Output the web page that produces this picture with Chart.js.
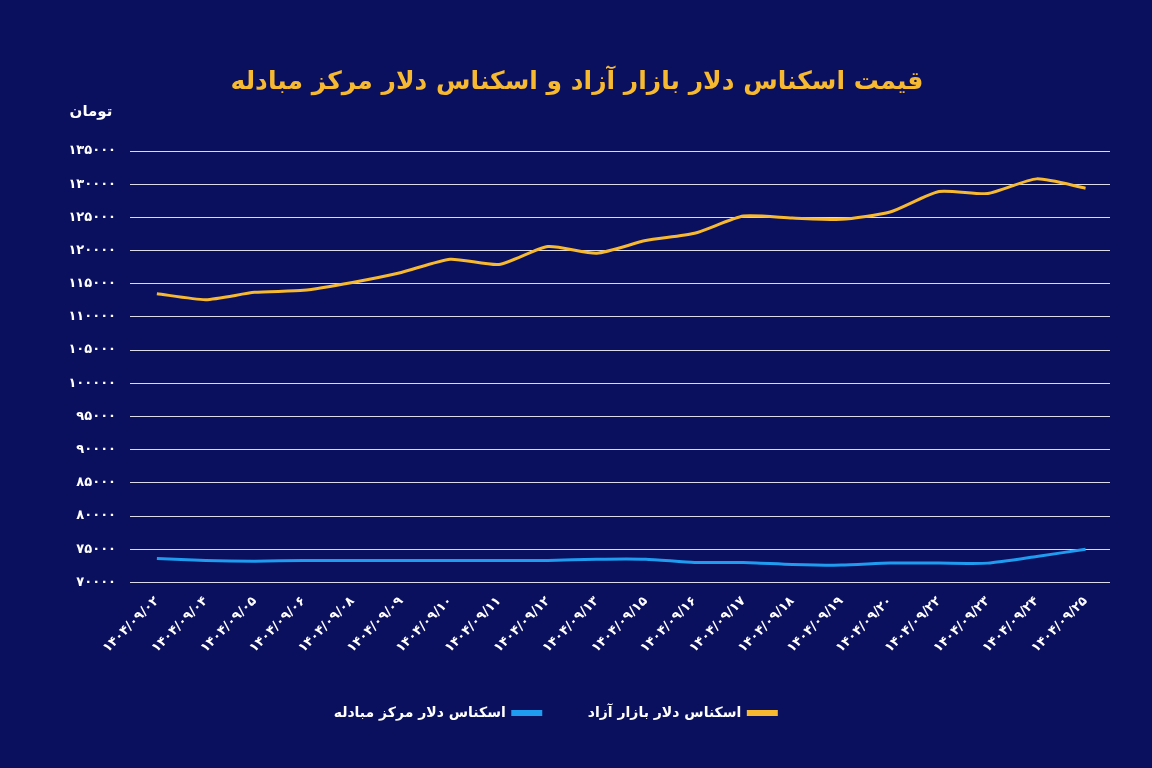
<!DOCTYPE html>
<html>
<head>
<meta charset="utf-8">
<script src="https://cdn.jsdelivr.net/npm/chart.js@4/dist/chart.umd.min.js"></script>
<style>
  html, body { margin: 0; padding: 0; background: #0b105e; }
  #wrap { width: 1152px; height: 768px; }
</style>
</head>
<body>
<div id="wrap"><canvas id="myChart"></canvas></div>
<script>
  const dates = ['1404/09/02', '1404/09/04', '1404/09/05', '1404/09/06', '1404/09/08', '1404/09/09', '1404/09/10',
    '1404/09/11', '1404/09/12', '1404/09/13', '1404/09/15', '1404/09/16', '1404/09/17', '1404/09/18',
    '1404/09/19', '1404/09/20', '1404/09/22', '1404/09/23', '1404/09/24', '1404/09/25']
  const freeMarket = [113500, 112600, 113700, 114000, 115200, 116700, 118700, 117900, 120600, 119600,
    121500, 122600, 125200, 124900, 124700, 125800, 128900, 128600, 130800, 129400]
  const exchangeCenter = [73600, 73300, 73200, 73300, 73300, 73300, 73300, 73300, 73300, 73500,
    73500, 73000, 73000, 72700, 72600, 72900, 72900, 72900, 73900, 75000]

  function fa(s) {
    return String(s).replace(/[0-9]/g, d => '۰۱۲۳۴۵۶۷۸۹'[d])
  }

  const FONT = "'DejaVu Sans', sans-serif"

  const titlePlugin = {
    id: 'titles',
    afterDraw(chart) {
      const c = chart.ctx
      c.save()
      c.textAlign = 'center'
      c.fillStyle = '#f6b930'
      c.font = 'bold 25px ' + FONT
      c.fillText('قیمت اسکناس دلار بازار آزاد و اسکناس دلار مرکز مبادله', 577, 82)
      c.fillStyle = '#ffffff'
      c.font = 'bold 15px ' + FONT
      c.fillText('تومان', 91, 112)
      c.restore()
    }
  }

  new Chart(document.getElementById('myChart'), {
    type: 'line',
    data: {
      datasets: [{
        label: 'اسکناس دلار بازار آزاد',
        data: freeMarket.map((v, i) => ({ x: i, y: v })),
        borderColor: '#f6b930',
        backgroundColor: '#f6b930',
        borderWidth: 3,
        pointRadius: 0,
        tension: 0.2
      }, {
        label: 'اسکناس دلار مرکز مبادله',
        data: exchangeCenter.map((v, i) => ({ x: i, y: v })),
        borderColor: '#1f9bf0',
        backgroundColor: '#1f9bf0',
        borderWidth: 3,
        pointRadius: 0,
        tension: 0.2
      }]
    },
    options: {
      responsive: true,
      maintainAspectRatio: false,
      animation: false,
      layout: { padding: { top: 151, right: 42, bottom: 38, left: 0 } },
      plugins: {
        tooltip: { enabled: false },
        legend: {
          position: 'bottom',
          rtl: true,
          labels: {
            color: '#ffffff',
            font: { family: FONT, size: 14, weight: 'bold' },
            boxWidth: 28,
            boxHeight: 3,
            padding: 47
          }
        }
      },
      scales: {
        x: {
          type: 'linear',
          min: -0.55,
          max: 19.5,
          grid: { display: false },
          border: { display: false },
          afterBuildTicks(scale) {
            scale.ticks = dates.map((d, i) => ({ value: i }))
          },
          ticks: {
            color: '#ffffff',
            font: { family: FONT, size: 13, weight: 'bold' },
            maxRotation: 45,
            minRotation: 45,
            autoSkip: false,
            callback: v => fa(dates[v])
          }
        },
        y: {
          min: 70000,
          max: 135000,
          afterFit(scale) { scale.width = 130 },
          grid: { color: 'rgba(255,255,255,0.85)', lineWidth: 1, drawTicks: false },
          border: { display: false },
          ticks: {
            stepSize: 5000,
            padding: 14,
            color: '#ffffff',
            font: { family: FONT, size: 13, weight: 'bold' },
            callback: v => fa(v)
          }
        }
      }
    },
    plugins: [titlePlugin]
  })
</script>
</body>
</html>
